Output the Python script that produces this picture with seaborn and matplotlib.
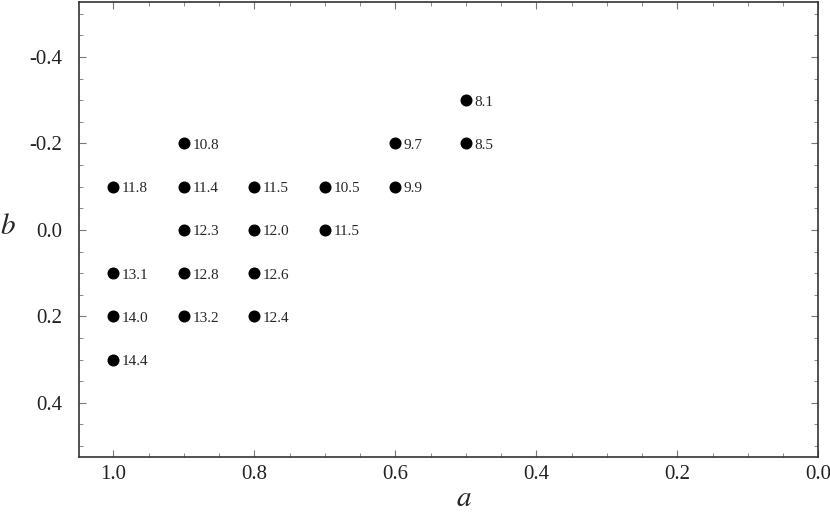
import pandas as pd
import matplotlib.pyplot as plt
from matplotlib.ticker import MultipleLocator
import seaborn as sns

# Vlerat e lexuara nga grafiku
a_vals = [1.0, 1.0, 1.0, 1.0,
          0.9, 0.9, 0.9, 0.9, 0.9,
          0.8, 0.8, 0.8, 0.8,
          0.7, 0.7,
          0.6, 0.6,
          0.5, 0.5]
b_vals = [-0.1, 0.1, 0.2, 0.3,
          -0.2, -0.1, 0.0, 0.1, 0.2,
          -0.1, 0.0, 0.1, 0.2,
          -0.1, 0.0,
          -0.2, -0.1,
          -0.3, -0.2]
labels = ["11.8", "13.1", "14.0", "14.4",
          "10.8", "11.4", "12.3", "12.8", "13.2",
          "11.5", "12.0", "12.6", "12.4",
          "10.5", "11.5",
          "9.7", "9.9",
          "8.1", "8.5"]

df = pd.DataFrame({"a": a_vals, "b": b_vals, "label": labels})

sns.set_style("ticks")
plt.rcParams["font.family"] = ["Liberation Serif", "DejaVu Serif"]
plt.rcParams["mathtext.fontset"] = "stix"

fig = plt.figure(figsize=(8.3, 5.18), dpi=100)
ax = fig.add_axes([0.095, 0.118, 0.891, 0.878])

sns.scatterplot(data=df, x="a", y="b", color="black", s=75,
                edgecolor="black", linewidth=0, ax=ax, zorder=3)

for _, row in df.iterrows():
    ax.annotate(row["label"], (row["a"], row["b"]), xytext=(6, -1.5),
                textcoords="offset points", ha="left", va="center",
                fontsize=11)

ax.set_xlim(1.049, 0.0)
ax.set_ylim(0.525, -0.527)
ax.xaxis.set_minor_locator(MultipleLocator(0.05))
ax.yaxis.set_minor_locator(MultipleLocator(0.05))
ax.set_xticks([1.0, 0.8, 0.6, 0.4, 0.2, 0.0])
ax.set_xticklabels(["1.0", "0.8", "0.6", "0.4", "0.2", "0.0"])
ax.set_yticks([-0.4, -0.2, 0.0, 0.2, 0.4])
ax.set_yticklabels(["-0.4", "-0.2", "0.0", "0.2", "0.4"])

ax.tick_params(which="both", direction="in", top=True, right=True,
               labelsize=15, color="#777777", labelcolor="#222222")
ax.tick_params(which="major", length=5, width=0.8)
ax.tick_params(which="minor", length=3, width=0.6)
ax.tick_params(axis="x", which="major", pad=6)
ax.tick_params(axis="y", which="major", pad=12)
for sp in ax.spines.values():
    sp.set_visible(True)
    sp.set_linewidth(1.2)
    sp.set_color("#333333")

ax.set_xlabel("$a$", fontsize=21, va="center")
ax.xaxis.set_label_coords(0.521, -0.092)
ax.set_ylabel("$b$", fontsize=21, rotation=0, ha="center", va="center")
ax.yaxis.set_label_coords(-0.096, 0.505)

fig.savefig("out.png", dpi=100)
